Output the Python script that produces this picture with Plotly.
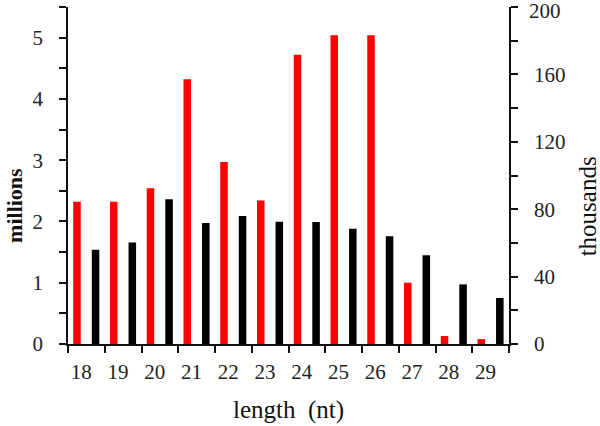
import plotly.graph_objects as go

lengths = [18, 19, 20, 21, 22, 23, 24, 25, 26, 27, 28, 29]
red_millions = [2.32, 2.32, 2.54, 4.32, 2.97, 2.34, 4.72, 5.04, 5.04, 1.0, 0.13, 0.08]
black_thousands = [56.0, 60.3, 85.9, 71.8, 76.0, 72.6, 72.4, 68.4, 63.9, 52.6, 35.4, 27.3]
left_ticks = [0, 1, 2, 3, 4, 5]
right_ticks = [0, 40, 80, 120, 160, 200]

FONT = "Liberation Serif"
red_x = [n + 0.245 for n in lengths]
black_x = [n + 0.75 for n in lengths]
label_x = [n + 0.36 for n in lengths]
boundaries = lengths + [lengths[-1] + 1]

fig = go.Figure()
fig.add_trace(go.Bar(x=red_x, y=red_millions, width=0.205, marker=dict(color="#ff0000", line=dict(width=0)),
                     yaxis="y", showlegend=False, hoverinfo="skip"))
fig.add_trace(go.Bar(x=black_x, y=black_thousands, width=0.205, marker=dict(color="#000000", line=dict(width=0)),
                     yaxis="y2", showlegend=False, hoverinfo="skip"))

axis_font = dict(family=FONT, size=21, color="#222")
# the top right tick label is clipped by plotly at the paper edge, so draw it as text
top_right = right_ticks[-1]
fig.update_layout(
    width=600, height=426,
    margin=dict(l=68, r=91, t=7, b=82),
    plot_bgcolor="white", paper_bgcolor="white",
    barmode="overlay",
    xaxis=dict(range=[lengths[0], lengths[-1] + 1], tickvals=label_x, ticktext=[str(n) for n in lengths],
               ticks="", showgrid=False, zeroline=False, showline=True, linecolor="#111", linewidth=1.5,
               tickfont=axis_font, ticklabelstandoff=8, automargin=False,
               minor=dict(tickvals=boundaries, ticks="outside", ticklen=7, tickwidth=1.5, tickcolor="#111",
                          showgrid=False)),
    yaxis=dict(range=[0, 5.5], tickvals=left_ticks, ticks="outside", ticklen=7, tickwidth=1.5, tickcolor="#111",
               showline=True, linecolor="#111", linewidth=1.5, showgrid=False, zeroline=False,
               tickfont=axis_font, ticklabelstandoff=12, automargin=False,
               minor=dict(dtick=0.5, ticks="outside", ticklen=7, tickwidth=1.5, tickcolor="#111", showgrid=False)),
    yaxis2=dict(range=[0, 200], tickvals=right_ticks[:-1], overlaying="y", side="right", anchor="x",
                ticks="outside", ticklen=7, tickwidth=1.5, tickcolor="#111",
                showline=True, linecolor="#111", linewidth=1.5, showgrid=False, zeroline=False,
                tickfont=axis_font, ticklabelstandoff=12, automargin=False,
                minor=dict(dtick=20, ticks="outside", ticklen=7, tickwidth=1.5, tickcolor="#111", showgrid=False)),
    annotations=[
        dict(text=str(top_right), xref="paper", yref="y2", x=1, y=top_right, xanchor="left", yanchor="top",
             xshift=19, yshift=9, showarrow=False, font=axis_font, borderpad=0),
        dict(text="<b>millions</b>", xref="paper", yref="paper", x=-0.12, y=0.41, textangle=-90,
             showarrow=False, font=dict(family=FONT, size=22, color="#111"), xanchor="center", yanchor="middle"),
        dict(text="thousands", xref="paper", yref="paper", x=1.178, y=0.41, textangle=-90,
             showarrow=False, font=dict(family=FONT, size=25, color="#111"), xanchor="center", yanchor="middle"),
        dict(text="length  (nt)", xref="paper", yref="paper", x=0.5, y=-0.196,
             showarrow=False, font=dict(family=FONT, size=25, color="#111"), xanchor="center", yanchor="middle"),
    ],
)

fig.write_html("out.html", config={"displayModeBar": False},
               post_script="document.body.style.margin='0';document.body.style.padding='0';")
